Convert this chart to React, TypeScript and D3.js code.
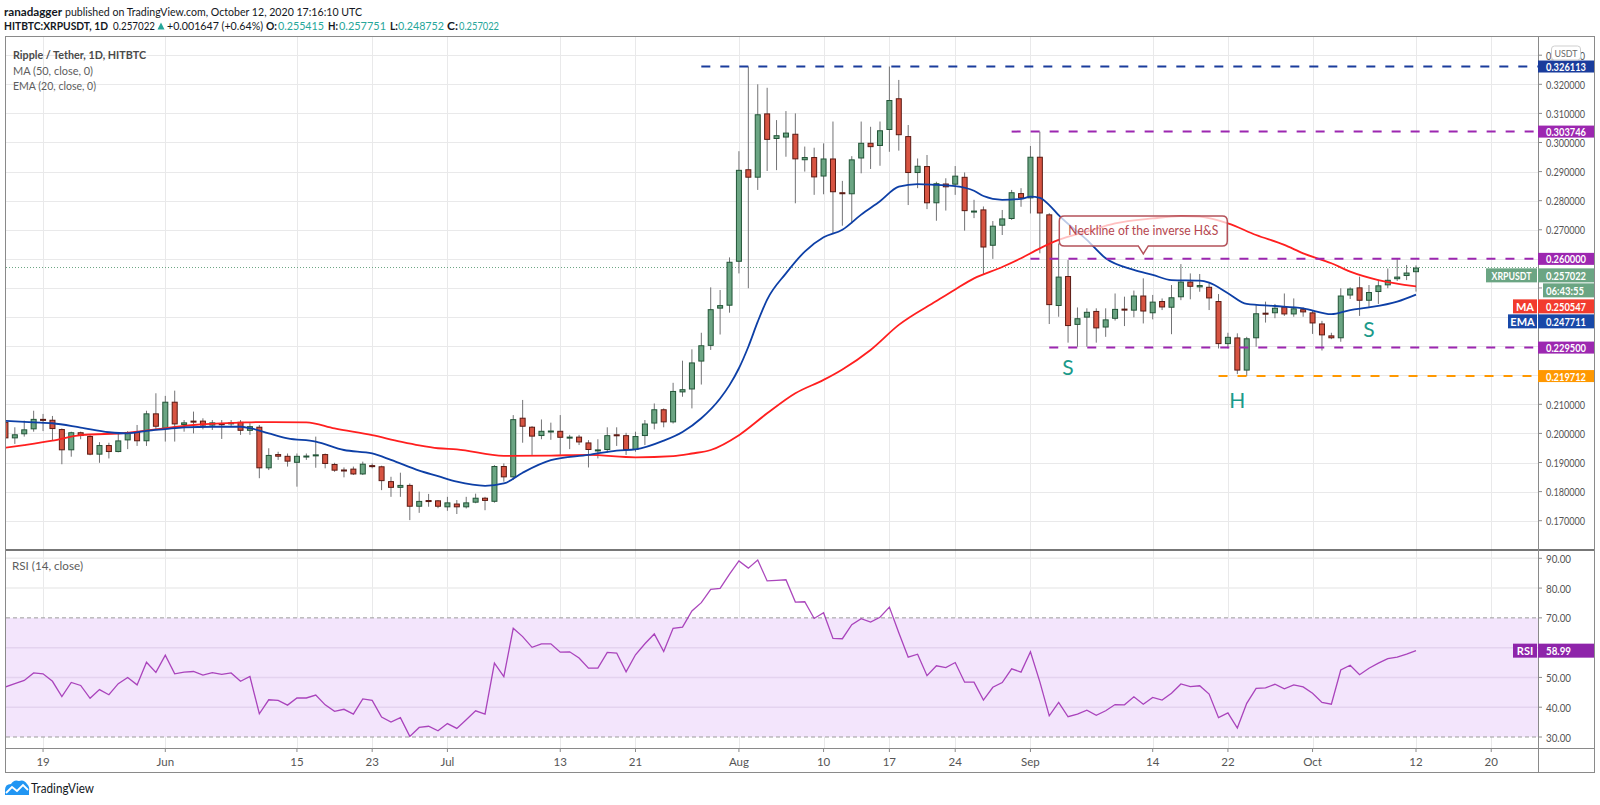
import { useRef, useEffect } from "react";
import * as d3 from "d3";

// daily candles, HITBTC:XRPUSDT, 2020-05-15 .. 2020-10-12
const firstDay = "2020-05-15";
const lastDay = "2020-10-12";

const opens = [
    // May 15-31
    0.2040, 0.1983, 0.1997, 0.2014, 0.2050, 0.2047, 0.2015, 0.1942, 0.2004, 0.1991, 0.1927, 0.1960, 0.1936, 0.1976, 0.2005, 0.1973, 0.2069,
    // Jun
    0.2016, 0.2109, 0.2029, 0.2044, 0.2044, 0.2027, 0.2035, 0.2031, 0.2040, 0.2009, 0.2023, 0.1880, 0.1929, 0.1923, 0.1899,
    0.1922, 0.1923, 0.1929, 0.1895, 0.1876, 0.1879, 0.1859, 0.1891, 0.1887, 0.1836, 0.1813, 0.1823, 0.1748, 0.1771, 0.1770,
    // Jul
    0.1746, 0.1759, 0.1746, 0.1762, 0.1779, 0.1765, 0.1888, 0.1849, 0.2054, 0.2023, 0.1991, 0.2008, 0.2009, 0.1983, 0.1989,
    0.1969, 0.1942, 0.1943, 0.1997, 0.1994, 0.1943, 0.1991, 0.2034, 0.2083, 0.2038, 0.2141, 0.2151, 0.2247, 0.2301, 0.2429, 0.2439,
    // Aug
    0.2590, 0.2908, 0.2879, 0.3100, 0.3012, 0.3017, 0.3030, 0.2939, 0.2950, 0.2883, 0.2945, 0.2829, 0.2822, 0.2945, 0.2999,
    0.2988, 0.3043, 0.3152, 0.3022, 0.2895, 0.2919, 0.2791, 0.2859, 0.2855, 0.2882, 0.2764, 0.2770, 0.2645, 0.2714, 0.2737, 0.2826,
    // Sep
    0.2808, 0.2951, 0.2753, 0.2438, 0.2541, 0.2373, 0.2398, 0.2421, 0.2364, 0.2394, 0.2429, 0.2422, 0.2474, 0.2413, 0.2455,
    0.2432, 0.2468, 0.2522, 0.2502, 0.2504, 0.2455, 0.2307, 0.2330, 0.2216, 0.2327, 0.2415, 0.2413, 0.2436, 0.2409, 0.2427,
    // Oct 1-12
    0.2416, 0.2378, 0.2337, 0.2327, 0.2474, 0.2502, 0.2456, 0.2486, 0.2509, 0.2530, 0.2541, 0.255415
];

const highs = [
    0.2052, 0.2021, 0.2044, 0.2078, 0.2067, 0.2060, 0.2017, 0.2006, 0.2006, 0.1994, 0.1970, 0.1968, 0.2000, 0.2008, 0.2029, 0.2078, 0.2138,
    0.2129, 0.2147, 0.2046, 0.2075, 0.2052, 0.2046, 0.2046, 0.2046, 0.2046, 0.2035, 0.2029, 0.1949, 0.1937, 0.1931, 0.1931,
    0.1931, 0.1989, 0.1931, 0.1899, 0.1883, 0.1886, 0.1903, 0.1897, 0.1889, 0.1851, 0.1865, 0.1828, 0.1800, 0.1792, 0.1771,
    0.1782, 0.1771, 0.1782, 0.1793, 0.1782, 0.1891, 0.1897, 0.2063, 0.2115, 0.2025, 0.2048, 0.2037, 0.2063, 0.1995, 0.1995,
    0.1977, 0.1980, 0.2021, 0.2021, 0.2002, 0.2006, 0.2046, 0.2103, 0.2086, 0.2174, 0.2250, 0.2289, 0.2346, 0.2502, 0.2493, 0.2605,
    0.2970, 0.3261, 0.3200, 0.3188, 0.3077, 0.3108, 0.3100, 0.2986, 0.2982, 0.2997, 0.3072, 0.2868, 0.2953, 0.3072, 0.3054,
    0.3072, 0.3261, 0.3215, 0.3060, 0.2945, 0.2957, 0.2865, 0.2877, 0.2919, 0.2897, 0.2803, 0.2780, 0.2730, 0.2768, 0.2837, 0.2843,
    0.2988, 0.3037, 0.2757, 0.2653, 0.2596, 0.2433, 0.2430, 0.2430, 0.2430, 0.2481, 0.2470, 0.2491, 0.2533, 0.2476, 0.2464,
    0.2510, 0.2582, 0.2550, 0.2548, 0.2516, 0.2479, 0.2346, 0.2344, 0.2332, 0.2445, 0.2453, 0.2445, 0.2481, 0.2464, 0.2433,
    0.2422, 0.2387, 0.2346, 0.2499, 0.2502, 0.2539, 0.2510, 0.2528, 0.2567, 0.2603, 0.2579, 0.257751
];

const lows = [
    0.1970, 0.1964, 0.1989, 0.2006, 0.2008, 0.1974, 0.1894, 0.1920, 0.1980, 0.1925, 0.1899, 0.1914, 0.1935, 0.1946, 0.1957, 0.1957, 0.2014,
    0.1972, 0.1972, 0.2006, 0.2000, 0.2014, 0.2012, 0.1981, 0.2023, 0.1995, 0.1995, 0.1846, 0.1874, 0.1909, 0.1886, 0.1817,
    0.1909, 0.1882, 0.1880, 0.1868, 0.1849, 0.1857, 0.1857, 0.1880, 0.1805, 0.1782, 0.1782, 0.1702, 0.1727, 0.1748, 0.1743,
    0.1734, 0.1723, 0.1742, 0.1760, 0.1736, 0.1762, 0.1834, 0.1840, 0.1968, 0.1926, 0.1980, 0.1978, 0.1926, 0.1946, 0.1960,
    0.1883, 0.1914, 0.1934, 0.1957, 0.1926, 0.1937, 0.1960, 0.2014, 0.2021, 0.2034, 0.2126, 0.2086, 0.2168, 0.2287, 0.2340, 0.2415,
    0.2550, 0.2499, 0.2837, 0.2902, 0.2905, 0.2951, 0.2791, 0.2900, 0.2820, 0.2822, 0.2688, 0.2714, 0.2722, 0.2894, 0.2909,
    0.2920, 0.2968, 0.2972, 0.2785, 0.2843, 0.2771, 0.2731, 0.2766, 0.2820, 0.2697, 0.2740, 0.2545, 0.2600, 0.2682, 0.2734, 0.2779,
    0.2756, 0.2619, 0.2376, 0.2401, 0.2312, 0.2298, 0.2298, 0.2312, 0.2332, 0.2388, 0.2369, 0.2399, 0.2378, 0.2392, 0.2424,
    0.2341, 0.2458, 0.2461, 0.2487, 0.2424, 0.2292, 0.2292, 0.2204, 0.2197, 0.2298, 0.2381, 0.2396, 0.2404, 0.2401, 0.2401,
    0.2342, 0.2285, 0.2324, 0.2315, 0.2462, 0.2404, 0.2433, 0.2445, 0.2499, 0.2524, 0.2527, 0.248752
];

const closes = [
    0.1983, 0.1997, 0.2014, 0.2050, 0.2047, 0.2015, 0.1942, 0.2004, 0.1991, 0.1927, 0.1960, 0.1936, 0.1976, 0.2005, 0.1973, 0.2069, 0.2023,
    0.2109, 0.2031, 0.2038, 0.2042, 0.2027, 0.2038, 0.2030, 0.2038, 0.2009, 0.2025, 0.1880, 0.1926, 0.1920, 0.1903, 0.1923,
    0.1924, 0.1928, 0.1895, 0.1872, 0.1872, 0.1859, 0.1896, 0.1887, 0.1836, 0.1813, 0.1823, 0.1748, 0.1768, 0.1769, 0.1748,
    0.1763, 0.1746, 0.1763, 0.1779, 0.1768, 0.1888, 0.1849, 0.2049, 0.2023, 0.1989, 0.2009, 0.2010, 0.1985, 0.1989, 0.1969,
    0.1943, 0.1945, 0.1994, 0.1994, 0.1943, 0.1991, 0.2034, 0.2083, 0.2038, 0.2146, 0.2152, 0.2244, 0.2303, 0.2427, 0.2441, 0.2590,
    0.2906, 0.2879, 0.3097, 0.3009, 0.3025, 0.3034, 0.2942, 0.2950, 0.2880, 0.2945, 0.2829, 0.2826, 0.2942, 0.2999, 0.2984,
    0.3042, 0.3146, 0.3025, 0.2895, 0.2920, 0.2791, 0.2860, 0.2846, 0.2886, 0.2764, 0.2766, 0.2639, 0.2714, 0.2739, 0.2829, 0.2808,
    0.2951, 0.2756, 0.2441, 0.2539, 0.2369, 0.2396, 0.2418, 0.2361, 0.2392, 0.2428, 0.2427, 0.2474, 0.2419, 0.2453, 0.2433,
    0.2468, 0.2522, 0.2504, 0.2510, 0.2464, 0.2307, 0.2332, 0.2216, 0.2327, 0.2413, 0.2412, 0.2432, 0.2409, 0.2430, 0.2416,
    0.2378, 0.2337, 0.2327, 0.2474, 0.2498, 0.2456, 0.2486, 0.2509, 0.2528, 0.2539, 0.2553, 0.257022
];

// RSI (14, close), one value per candle
const rsiValues = [
    46.8, 47.9, 49.0, 51.5, 51.2, 48.7, 43.6, 48.3, 47.3, 43.0, 45.9, 44.2, 47.9, 50.0, 47.5, 55.1, 51.7,
    57.5, 51.2, 51.8, 52.0, 50.8, 51.6, 51.0, 51.5, 48.7, 50.3, 37.8, 42.5, 42.3, 40.7, 43.1,
    43.1, 44.1, 40.8, 38.6, 39.3, 37.7, 42.8, 42.3, 36.7, 35.0, 36.5, 30.2, 33.2, 33.6, 32.1,
    34.5, 32.9, 35.8, 38.8, 37.7, 54.8, 50.3, 66.5, 63.7, 60.1, 61.3, 61.3, 58.5, 58.6, 56.5,
    53.1, 53.1, 58.4, 58.2, 51.9, 57.6, 61.3, 64.6, 58.7, 66.5, 66.9, 72.3, 75.1, 79.6, 79.9, 84.7,
    89.1, 86.7, 89.4, 82.4, 82.6, 82.8, 75.3, 75.4, 69.8, 71.7, 63.1, 63.0, 67.7, 69.7, 68.6,
    70.2, 73.6, 65.0, 56.8, 57.8, 50.6, 53.9, 53.3, 55.0, 48.4, 48.4, 42.4, 46.7, 48.3, 52.9, 51.8,
    58.6, 48.5, 37.1, 41.6, 36.8, 37.7, 39.0, 37.3, 38.8, 40.9, 40.8, 43.5, 41.0, 43.3, 42.4,
    44.7, 47.8, 46.9, 47.2, 44.4, 36.5, 38.1, 33.0, 41.3, 46.3, 46.5, 47.7, 46.2, 47.5, 46.8,
    44.7, 41.6, 41.0, 52.5, 54.1, 50.9, 53.1, 54.8, 56.3, 56.8, 57.8, 58.99
];

// EMA (20, close)
const emaDates = [
    "2020-05-15", "2020-05-18", "2020-05-20", "2020-05-23", "2020-05-26", "2020-05-28", "2020-05-30", "2020-06-01",
    "2020-06-03", "2020-06-06", "2020-06-09", "2020-06-10", "2020-06-12", "2020-06-14", "2020-06-17", "2020-06-20",
    "2020-06-23", "2020-06-25", "2020-06-28", "2020-06-30", "2020-07-02", "2020-07-05", "2020-07-07", "2020-07-09",
    "2020-07-12", "2020-07-16", "2020-07-19", "2020-07-21", "2020-07-24", "2020-07-26", "2020-07-28", "2020-07-30",
    "2020-07-31", "2020-08-01", "2020-08-02", "2020-08-03", "2020-08-04", "2020-08-06", "2020-08-08", "2020-08-10",
    "2020-08-12", "2020-08-14", "2020-08-16", "2020-08-18", "2020-08-20", "2020-08-22", "2020-08-24", "2020-08-26",
    "2020-08-27", "2020-08-29", "2020-08-31", "2020-09-01", "2020-09-02", "2020-09-03", "2020-09-04", "2020-09-07",
    "2020-09-09", "2020-09-12", "2020-09-14", "2020-09-16", "2020-09-19", "2020-09-20", "2020-09-22", "2020-09-24",
    "2020-09-27", "2020-09-30", "2020-10-03", "2020-10-05", "2020-10-07", "2020-10-10", "2020-10-12"
];
const emaValues = [
    0.2043, 0.2038, 0.2035, 0.2020, 0.2004, 0.2000, 0.2009, 0.2015,
    0.2021, 0.2023, 0.2023, 0.2018, 0.2000, 0.1983, 0.1972, 0.1943,
    0.1931, 0.1909, 0.1872, 0.1853, 0.1834, 0.1820, 0.1828, 0.1865,
    0.1908, 0.1926, 0.1941, 0.1945, 0.1975, 0.2005, 0.2052, 0.2120,
    0.2166, 0.2224, 0.2298, 0.2384, 0.2460, 0.2550, 0.2625, 0.2674,
    0.2700, 0.2752, 0.2798, 0.2848, 0.2857, 0.2854, 0.2850, 0.2834,
    0.2816, 0.2803, 0.2806, 0.2814, 0.2810, 0.2785, 0.2750, 0.2665,
    0.2602, 0.2562, 0.2545, 0.2527, 0.2525, 0.2518, 0.2482, 0.2445,
    0.2438, 0.2430, 0.2410, 0.2424, 0.2433, 0.2453, 0.247711
];

// MA (50, close)
const maDates = [
    "2020-05-15", "2020-05-17", "2020-05-20", "2020-05-23", "2020-05-28", "2020-05-31", "2020-06-04", "2020-06-09",
    "2020-06-11", "2020-06-16", "2020-06-19", "2020-06-23", "2020-06-26", "2020-06-28", "2020-06-30", "2020-07-02",
    "2020-07-07", "2020-07-12", "2020-07-16", "2020-07-21", "2020-07-25", "2020-07-27", "2020-07-29", "2020-08-01",
    "2020-08-04", "2020-08-07", "2020-08-10", "2020-08-12", "2020-08-15", "2020-08-18", "2020-08-22", "2020-08-24",
    "2020-08-26", "2020-08-29", "2020-08-31", "2020-09-02", "2020-09-04", "2020-09-07", "2020-09-10", "2020-09-14",
    "2020-09-17", "2020-09-19", "2020-09-22", "2020-09-25", "2020-09-28", "2020-09-30", "2020-10-03", "2020-10-05",
    "2020-10-08", "2020-10-12"
];
const maValues = [
    0.1951, 0.1960, 0.1975, 0.1994, 0.2002, 0.2014, 0.2029, 0.2037,
    0.2039, 0.2038, 0.2017, 0.1994, 0.1972, 0.1959, 0.1949, 0.1945,
    0.1923, 0.1924, 0.1926, 0.1918, 0.1922, 0.1931, 0.1943, 0.1994,
    0.2069, 0.2138, 0.2184, 0.2220, 0.2287, 0.2373, 0.2455, 0.2495,
    0.2533, 0.2572, 0.2602, 0.2636, 0.2665, 0.2694, 0.2722, 0.2739,
    0.2747, 0.2745, 0.2722, 0.2682, 0.2648, 0.2619, 0.2585, 0.2556,
    0.2527, 0.250547
];

const priceTicks = [0.17, 0.18, 0.19, 0.2, 0.21, 0.22, 0.23, 0.24, 0.25, 0.26, 0.27, 0.28, 0.29, 0.3, 0.31, 0.32, 0.33];
const rsiGrid = [40, 50, 60, 80, 90];
const rsiTicks = [30, 40, 50, 60, 70, 80, 90];
const dateTicks = [
    "2020-05-19", "2020-06-01", "2020-06-15", "2020-06-23", "2020-07-01", "2020-07-13", "2020-07-21", "2020-08-01",
    "2020-08-10", "2020-08-17", "2020-08-24", "2020-09-01", "2020-09-14", "2020-09-22", "2020-10-01", "2020-10-12", "2020-10-20"
];
const dateTickLabels = ["19", "Jun", "15", "23", "Jul", "13", "21", "Aug", "10", "17", "24", "Sep", "14", "22", "Oct", "12", "20"];

// horizontal levels drawn by the author
const levelValues = [0.326113, 0.303746, 0.26, 0.2295, 0.219712];
const levelStarts = ["2020-07-28", "2020-08-30", "2020-09-01", "2020-09-03", "2020-09-21"];
const levelColors = ["#1a3c9c", "#9c27b0", "#9c27b0", "#9c27b0", "#ff9800"];

// inverse head & shoulders marks
const patternLetters = ["S", "H", "S"];
const patternDates = ["2020-09-05", "2020-09-23", "2020-10-07"];
const patternPrices = [0.2229, 0.2115, 0.2361];

const calloutText = "Neckline of the inverse H&S";
const calloutDate = "2020-09-13";
const calloutPrice = 0.2617;

// header line 2 pieces: text, bold, teal, left x, width
const quoteParts: [string, boolean, boolean, number, number][] = [
    ["HITBTC:XRPUSDT, 1D", true, false, 4, 104],
    ["0.257022", false, false, 113, 42],
    ["+0.001647 (+0.64%)", false, false, 167, 96],
    ["O:", true, false, 266, 11], ["0.255415", false, true, 278, 46],
    ["H:", true, false, 328, 10], ["0.257751", false, true, 339, 47],
    ["L:", true, false, 390, 8], ["0.248752", false, true, 398, 46],
    ["C:", true, false, 447, 11], ["0.257022", false, true, 459, 40]
];

const lastPrice = 0.257022;
const countdown = "06:43:55";
const lastRsi = 58.99;

const FONT = "Lato, 'Open Sans', sans-serif";
const parse = d3.timeParse("%Y-%m-%d");
const fmt6 = d3.format(".6f");

export default function App() {
    const svgRef = useRef<SVGSVGElement>(null);

    useEffect(() => {
        const svg = d3.select<SVGSVGElement, unknown>(svgRef.current as SVGSVGElement);
        svg.selectAll("*").remove();

        // frame / panes
        const L = 6, R = 1538, FR = 1594, T = 37, MB = 550, RB = 748, FB = 772;

        const days = d3.timeDay.range(parse(firstDay) as Date, d3.timeDay.offset(parse(lastDay) as Date, 1));
        const x = d3.scaleTime()
            .domain([parse("2020-06-01") as Date, parse("2020-10-12") as Date])
            .range([165.3, 1416]);
        const y = d3.scaleLinear().domain([0.17, 0.32]).range([520.7, 84.3]);
        const yr = d3.scaleLinear().domain([30, 90]).range([737, 558.3]);

        // squeeze text to the width it has in the reference (narrow UI font)
        const fit = (sel: d3.Selection<SVGTextElement, unknown, null, undefined>, w: number) =>
            sel.attr("textLength", w).attr("lengthAdjust", "spacingAndGlyphs");

        svg.append("rect").attr("width", 1600).attr("height", 805).attr("fill", "#ffffff");

        const defs = svg.append("defs");
        defs.append("clipPath").attr("id", "clipMain")
            .append("rect").attr("x", L).attr("y", T).attr("width", R - L).attr("height", MB - T);
        defs.append("clipPath").attr("id", "clipRsi")
            .append("rect").attr("x", L).attr("y", MB).attr("width", R - L).attr("height", RB - MB);

        // grid
        const grid = svg.append("g").attr("stroke", "#e9e9ea").attr("stroke-width", 1);
        dateTicks.forEach(d => {
            const gx = Math.round(x(parse(d) as Date)) + 0.5;
            grid.append("line").attr("x1", gx).attr("x2", gx).attr("y1", T).attr("y2", RB);
        });
        priceTicks.forEach(p => {
            const gy = Math.round(y(p)) + 0.5;
            if (gy > T && gy < MB) grid.append("line").attr("x1", L).attr("x2", R).attr("y1", gy).attr("y2", gy);
        });

        // RSI band + grid
        svg.append("rect").attr("x", L).attr("width", R - L)
            .attr("y", yr(70)).attr("height", yr(30) - yr(70))
            .attr("fill", "#f3e5fc");
        rsiGrid.forEach(v => {
            svg.append("line").attr("x1", L).attr("x2", R).attr("y1", yr(v)).attr("y2", yr(v))
                .attr("stroke", v >= 70 ? "#ececec" : "#e4d3ef").attr("stroke-width", 1.5);
        });
        [70, 30].forEach(v => {
            svg.append("line").attr("x1", L).attr("x2", R).attr("y1", yr(v)).attr("y2", yr(v))
                .attr("stroke", "#9b9b9b").attr("stroke-dasharray", "4,3").attr("stroke-width", 1);
        });

        // header
        fit(svg.append("text").attr("x", 4).attr("y", 15.5).attr("font-family", FONT)
            .attr("font-size", 12).attr("font-weight", "bold").attr("fill", "#131722").text("ranadagger"), 58);
        fit(svg.append("text").attr("x", 65).attr("y", 15.5).attr("font-family", FONT)
            .attr("font-size", 12).attr("fill", "#131722")
            .text("published on TradingView.com, October 12, 2020 17:16:10 UTC"), 297);

        quoteParts.forEach(([txt, bold, tealed, px, w]) => {
            fit(svg.append("text").attr("x", px).attr("y", 30).attr("font-family", FONT)
                .attr("font-size", 10.5).attr("font-weight", bold ? "bold" : "normal")
                .attr("fill", tealed ? "#26a69a" : "#131722").text(txt), w);
        });
        // up arrow after the last price
        svg.append("path").attr("d", "M157.5,29.5 L161,22.5 L164.5,29.5 Z").attr("fill", "#26a69a");

        // main pane contents
        const main = svg.append("g").attr("clip-path", "url(#clipMain)");

        // last price dotted line
        main.append("line").attr("x1", L).attr("x2", R).attr("y1", y(lastPrice)).attr("y2", y(lastPrice))
            .attr("stroke", "#6ba583").attr("stroke-dasharray", "1,2").attr("stroke-width", 1);

        // candles
        const idx = d3.range(days.length);
        main.append("g").attr("stroke", "#737375").attr("stroke-width", 1)
            .selectAll("line").data(idx).join("line")
            .attr("x1", i => x(days[i])).attr("x2", i => x(days[i]))
            .attr("y1", i => y(highs[i])).attr("y2", i => y(lows[i]));

        const bodyW = 6;
        main.append("g").selectAll("rect").data(idx).join("rect")
            .attr("x", i => x(days[i]) - bodyW / 2 + 0.5)
            .attr("width", bodyW - 1)
            .attr("y", i => y(Math.max(opens[i], closes[i])) + 0.5)
            .attr("height", i => Math.max(1, Math.abs(y(opens[i]) - y(closes[i])) - 1))
            .attr("fill", i => closes[i] >= opens[i] ? "#6ba583" : "#d75442")
            .attr("stroke", i => closes[i] >= opens[i] ? "#225437" : "#5b1a13")
            .attr("stroke-width", 1);

        // moving averages
        const curve = d3.line<[Date, number]>()
            .x(d => x(d[0])).y(d => y(d[1]))
            .curve(d3.curveMonotoneX);
        const maPts: [Date, number][] = maDates.map((d, i) => [parse(d) as Date, maValues[i]]);
        const emaPts: [Date, number][] = emaDates.map((d, i) => [parse(d) as Date, emaValues[i]]);
        main.append("path").attr("d", curve(maPts)).attr("fill", "none")
            .attr("stroke", "#ff1f1f").attr("stroke-width", 1.8);
        main.append("path").attr("d", curve(emaPts)).attr("fill", "none")
            .attr("stroke", "#0d3fa6").attr("stroke-width", 1.8);

        // author levels
        levelValues.forEach((v, i) => {
            main.append("line")
                .attr("x1", x(parse(levelStarts[i]) as Date)).attr("x2", R)
                .attr("y1", y(v)).attr("y2", y(v))
                .attr("stroke", levelColors[i]).attr("stroke-width", 2)
                .attr("stroke-dasharray", "9,10");
        });

        // callout
        const cx = x(parse(calloutDate) as Date);
        const cy = y(calloutPrice);
        const bw = 168, bh = 30, bx = cx - 84, by = cy - 8 - bh;
        const callout = main.append("g");
        callout.append("path")
            .attr("d", `M${bx + 5},${by} H${bx + bw - 5} Q${bx + bw},${by} ${bx + bw},${by + 5} V${by + bh - 5} Q${bx + bw},${by + bh} ${bx + bw - 5},${by + bh}`
                + ` H${cx + 5} L${cx},${cy} L${cx - 5},${by + bh} H${bx + 5} Q${bx},${by + bh} ${bx},${by + bh - 5} V${by + 5} Q${bx},${by} ${bx + 5},${by} Z`)
            .attr("fill", "rgba(255,255,255,0.72)")
            .attr("stroke", "#b4525a").attr("stroke-width", 1.5);
        fit(callout.append("text").attr("x", bx + 9).attr("y", by + 19.5)
            .attr("font-family", FONT).attr("font-size", 13).attr("fill", "#b5474f")
            .text(calloutText), 150);

        // S H S letters
        patternLetters.forEach((s, i) => {
            main.append("text")
                .attr("x", x(parse(patternDates[i]) as Date)).attr("y", y(patternPrices[i]))
                .attr("text-anchor", "middle").attr("dominant-baseline", "central")
                .attr("font-family", FONT).attr("font-size", 21).attr("fill", "#1b9a8a")
                .text(s);
        });

        // legends
        fit(svg.append("text").attr("x", 13).attr("y", 58.5).attr("font-family", FONT)
            .attr("font-size", 12).attr("font-weight", "bold").attr("fill", "#4a4a4a")
            .text("Ripple / Tether, 1D, HITBTC"), 133);
        fit(svg.append("text").attr("x", 13).attr("y", 75).attr("font-family", FONT)
            .attr("font-size", 12).attr("fill", "#5d5d5d").text("MA (50, close, 0)"), 80);
        fit(svg.append("text").attr("x", 13).attr("y", 89.5).attr("font-family", FONT)
            .attr("font-size", 12).attr("fill", "#5d5d5d").text("EMA (20, close, 0)"), 83);

        // RSI line
        const rsiLine = d3.line<number>().x((d, i) => x(days[i])).y(d => yr(d));
        svg.append("g").attr("clip-path", "url(#clipRsi)")
            .append("path").attr("d", rsiLine(rsiValues)).attr("fill", "none")
            .attr("stroke", "#9c27b0").attr("stroke-width", 1.3).attr("stroke-opacity", 0.85);
        fit(svg.append("text").attr("x", 12).attr("y", 570).attr("font-family", FONT)
            .attr("font-size", 12).attr("fill", "#5d5d5d").text("RSI (14, close)"), 71);

        // borders
        const border = svg.append("g").attr("fill", "none");
        border.append("rect").attr("x", L - 0.5).attr("y", T - 0.5).attr("width", FR - L + 1).attr("height", FB - T + 1)
            .attr("stroke", "#8a8a8a").attr("stroke-width", 1);
        border.append("line").attr("x1", L).attr("x2", FR).attr("y1", MB).attr("y2", MB)
            .attr("stroke", "#4a4a4a").attr("stroke-width", 1.5);
        border.append("line").attr("x1", L).attr("x2", FR).attr("y1", RB + 0.5).attr("y2", RB + 0.5)
            .attr("stroke", "#8a8a8a").attr("stroke-width", 1);
        border.append("line").attr("x1", R + 0.5).attr("x2", R + 0.5).attr("y1", T).attr("y2", FB)
            .attr("stroke", "#8a8a8a").attr("stroke-width", 1);

        // label boxes on the price scale (their rows hide the plain tick labels)
        const yPrice = Math.max(y(lastPrice), y(0.26) + 16.5);
        const yCount = yPrice + 15;
        const yMa = Math.max(y(maValues[maValues.length - 1]), yCount + 16);
        const yEma = Math.max(y(emaValues[emaValues.length - 1]), yMa + 15);
        const taken = [...levelValues.map(v => y(v)), yPrice, yCount, yMa, yEma, yr(lastRsi)];
        const free = (ty: number) => taken.every(b => Math.abs(b - ty) > 10);

        // price axis
        const axisTxt = "#555555";
        priceTicks.forEach(p => {
            const ty = y(p);
            if (ty < T || ty > MB - 6) return;
            svg.append("line").attr("x1", R).attr("x2", R + 4).attr("y1", ty).attr("y2", ty).attr("stroke", "#8a8a8a");
            if (!free(ty)) return;
            fit(svg.append("text").attr("x", 1546).attr("y", ty).attr("dominant-baseline", "central")
                .attr("font-family", FONT).attr("font-size", 11).attr("fill", axisTxt).text(fmt6(p)), 39);
        });
        rsiTicks.forEach(v => {
            const ty = yr(v);
            svg.append("line").attr("x1", R).attr("x2", R + 4).attr("y1", ty).attr("y2", ty).attr("stroke", "#8a8a8a");
            if (!free(ty)) return;
            fit(svg.append("text").attr("x", 1546).attr("y", ty).attr("dominant-baseline", "central")
                .attr("font-family", FONT).attr("font-size", 11).attr("fill", axisTxt).text(v.toFixed(2)), 25);
        });

        // date axis
        dateTicks.forEach((d, i) => {
            const tx = x(parse(d) as Date);
            svg.append("line").attr("x1", tx).attr("x2", tx).attr("y1", RB).attr("y2", RB + 4).attr("stroke", "#8a8a8a");
            svg.append("text").attr("x", tx).attr("y", 761).attr("text-anchor", "middle")
                .attr("dominant-baseline", "central").attr("font-family", FONT).attr("font-size", 11.5)
                .attr("fill", axisTxt).text(dateTickLabels[i]);
        });

        const box = (cyBox: number, h: number, fill: string, text: string, w: number, x0 = R, x1 = FR, anchorLeft = true) => {
            svg.append("rect").attr("x", x0).attr("y", cyBox - h / 2).attr("width", x1 - x0).attr("height", h).attr("fill", fill);
            const t = svg.append("text").attr("x", anchorLeft ? 1546 : (x0 + x1) / 2).attr("y", cyBox)
                .attr("text-anchor", anchorLeft ? "start" : "middle").attr("dominant-baseline", "central")
                .attr("font-family", FONT).attr("font-size", 11).attr("font-weight", "bold")
                .attr("fill", "#ffffff").text(text);
            if (w > 0) fit(t, w);
        };
        levelValues.forEach((v, i) => box(y(v), 12, levelColors[i], fmt6(v), 40));

        box(yPrice, 14, "#6ba583", fmt6(lastPrice), 40);
        box(yPrice, 14, "#6ba583", "XRPUSDT", 40, 1486, R - 1, false);
        box(yCount, 14, "#6ba583", countdown, 38, 1543, FR);
        box(yMa, 14, "#f23b2e", fmt6(maValues[maValues.length - 1]), 40);
        box(yMa, 14, "#f23b2e", "MA", 0, 1513, R - 1, false);
        box(yEma, 14, "#1848a8", fmt6(emaValues[emaValues.length - 1]), 40);
        box(yEma, 14, "#1848a8", "EMA", 0, 1508, R - 1, false);
        box(yr(lastRsi), 14, "#8e24aa", lastRsi.toFixed(2), 25);
        box(yr(lastRsi), 14, "#8e24aa", "RSI", 0, 1513, R - 1, false);

        // currency badge (sits over the 0.33 row, as on the original)
        svg.append("rect").attr("x", 1551.5).attr("y", 46).attr("width", 29).attr("height", 14).attr("rx", 3)
            .attr("fill", "#ffffff").attr("stroke", "#cfcfcf");
        fit(svg.append("text").attr("x", 1566).attr("y", 53).attr("text-anchor", "middle").attr("dominant-baseline", "central")
            .attr("font-family", FONT).attr("font-size", 10).attr("fill", "#6a6a6a").text("USDT"), 23);

        // logo
        const logo = svg.append("g");
        logo.append("path")
            .attr("d", "M5,795 L5,790 Q5,784 11,784 Q14,779 19,781 Q24,779 27,784 Q30,787 29,791 L29,795 Z")
            .attr("fill", "#2196f3");
        logo.append("polyline").attr("points", "6,793 12,787 17,791 23,785 28,790")
            .attr("fill", "none").attr("stroke", "#ffffff").attr("stroke-width", 1.8);
        fit(logo.append("text").attr("x", 31).attr("y", 792.5).attr("font-family", FONT)
            .attr("font-size", 13).attr("fill", "#131722").text("TradingView"), 63);
    }, []);

    return <svg ref={svgRef} width={1600} height={805} style={{ position: "absolute", left: 0, top: 0, display: "block" }} />;
}
